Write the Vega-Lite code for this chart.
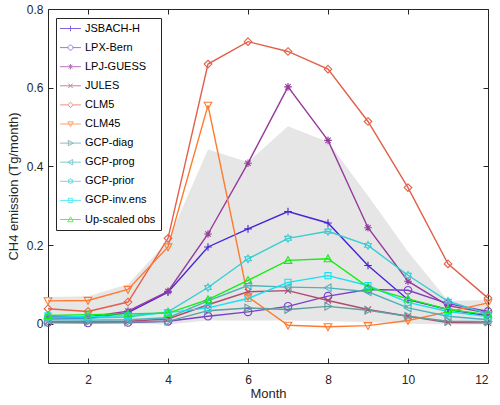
{
  "$schema": "https://vega.github.io/schema/vega-lite/v6.json",
  "width": 440,
  "height": 354,
  "autosize": "none",
  "padding": {"left": 48, "top": 9, "right": 12, "bottom": 42},
  "background": "white",
  "config": {
    "font": "Liberation Sans",
    "view": {"stroke": "#262626", "strokeWidth": 1},
    "axis": {"domain": false, "grid": false, "tickColor": "#262626", "tickSize": -5, "tickWidth": 1, "labelColor": "#262626", "labelFontSize": 12, "titleColor": "#262626", "titleFontSize": 13, "titleFontWeight": "normal", "labelFont": "Liberation Sans", "titleFont": "Liberation Sans"}
  },
  "datasets": {
    "band": [
      {"month": 1, "lo": 0.0, "hi": 0.068},
      {"month": 2, "lo": 0.0, "hi": 0.07},
      {"month": 3, "lo": 0.0, "hi": 0.1},
      {"month": 4, "lo": -0.002, "hi": 0.21},
      {"month": 5, "lo": 0.008, "hi": 0.443},
      {"month": 6, "lo": 0.008, "hi": 0.411},
      {"month": 7, "lo": 0.008, "hi": 0.502},
      {"month": 8, "lo": 0.006, "hi": 0.462},
      {"month": 9, "lo": 0.004, "hi": 0.325},
      {"month": 10, "lo": 0.0, "hi": 0.183},
      {"month": 11, "lo": -0.002, "hi": 0.058},
      {"month": 12, "lo": -0.002, "hi": 0.06}
    ],
    "series": [
      {"series": "JSBACH-H", "month": 1, "value": 0.015},
      {"series": "JSBACH-H", "month": 2, "value": 0.013},
      {"series": "JSBACH-H", "month": 3, "value": 0.028},
      {"series": "JSBACH-H", "month": 4, "value": 0.08},
      {"series": "JSBACH-H", "month": 5, "value": 0.195},
      {"series": "JSBACH-H", "month": 6, "value": 0.241},
      {"series": "JSBACH-H", "month": 7, "value": 0.285},
      {"series": "JSBACH-H", "month": 8, "value": 0.256},
      {"series": "JSBACH-H", "month": 9, "value": 0.148},
      {"series": "JSBACH-H", "month": 10, "value": 0.061},
      {"series": "JSBACH-H", "month": 11, "value": 0.036},
      {"series": "JSBACH-H", "month": 12, "value": 0.02},
      {"series": "LPX-Bern", "month": 1, "value": 0.003},
      {"series": "LPX-Bern", "month": 2, "value": 0.002},
      {"series": "LPX-Bern", "month": 3, "value": 0.003},
      {"series": "LPX-Bern", "month": 4, "value": 0.006},
      {"series": "LPX-Bern", "month": 5, "value": 0.019},
      {"series": "LPX-Bern", "month": 6, "value": 0.03},
      {"series": "LPX-Bern", "month": 7, "value": 0.044},
      {"series": "LPX-Bern", "month": 8, "value": 0.07},
      {"series": "LPX-Bern", "month": 9, "value": 0.087},
      {"series": "LPX-Bern", "month": 10, "value": 0.085},
      {"series": "LPX-Bern", "month": 11, "value": 0.051},
      {"series": "LPX-Bern", "month": 12, "value": 0.031},
      {"series": "LPJ-GUESS", "month": 1, "value": 0.019},
      {"series": "LPJ-GUESS", "month": 2, "value": 0.017},
      {"series": "LPJ-GUESS", "month": 3, "value": 0.032},
      {"series": "LPJ-GUESS", "month": 4, "value": 0.082},
      {"series": "LPJ-GUESS", "month": 5, "value": 0.228},
      {"series": "LPJ-GUESS", "month": 6, "value": 0.408},
      {"series": "LPJ-GUESS", "month": 7, "value": 0.602},
      {"series": "LPJ-GUESS", "month": 8, "value": 0.466},
      {"series": "LPJ-GUESS", "month": 9, "value": 0.244},
      {"series": "LPJ-GUESS", "month": 10, "value": 0.108},
      {"series": "LPJ-GUESS", "month": 11, "value": 0.046},
      {"series": "LPJ-GUESS", "month": 12, "value": 0.027},
      {"series": "JULES", "month": 1, "value": 0.005},
      {"series": "JULES", "month": 2, "value": 0.005},
      {"series": "JULES", "month": 3, "value": 0.006},
      {"series": "JULES", "month": 4, "value": 0.012},
      {"series": "JULES", "month": 5, "value": 0.048},
      {"series": "JULES", "month": 6, "value": 0.081},
      {"series": "JULES", "month": 7, "value": 0.084},
      {"series": "JULES", "month": 8, "value": 0.059},
      {"series": "JULES", "month": 9, "value": 0.036},
      {"series": "JULES", "month": 10, "value": 0.019},
      {"series": "JULES", "month": 11, "value": 0.003},
      {"series": "JULES", "month": 12, "value": 0.002},
      {"series": "CLM5", "month": 1, "value": 0.038},
      {"series": "CLM5", "month": 2, "value": 0.031},
      {"series": "CLM5", "month": 3, "value": 0.055},
      {"series": "CLM5", "month": 4, "value": 0.217},
      {"series": "CLM5", "month": 5, "value": 0.66},
      {"series": "CLM5", "month": 6, "value": 0.717},
      {"series": "CLM5", "month": 7, "value": 0.692},
      {"series": "CLM5", "month": 8, "value": 0.647},
      {"series": "CLM5", "month": 9, "value": 0.514},
      {"series": "CLM5", "month": 10, "value": 0.346},
      {"series": "CLM5", "month": 11, "value": 0.152},
      {"series": "CLM5", "month": 12, "value": 0.065},
      {"series": "CLM45", "month": 1, "value": 0.058},
      {"series": "CLM45", "month": 2, "value": 0.059},
      {"series": "CLM45", "month": 3, "value": 0.087},
      {"series": "CLM45", "month": 4, "value": 0.195},
      {"series": "CLM45", "month": 5, "value": 0.555},
      {"series": "CLM45", "month": 6, "value": 0.068},
      {"series": "CLM45", "month": 7, "value": -0.004},
      {"series": "CLM45", "month": 8, "value": -0.008},
      {"series": "CLM45", "month": 9, "value": -0.005},
      {"series": "CLM45", "month": 10, "value": 0.008},
      {"series": "CLM45", "month": 11, "value": 0.03},
      {"series": "CLM45", "month": 12, "value": 0.053},
      {"series": "GCP-diag", "month": 1, "value": 0.004},
      {"series": "GCP-diag", "month": 2, "value": 0.004},
      {"series": "GCP-diag", "month": 3, "value": 0.004},
      {"series": "GCP-diag", "month": 4, "value": 0.006},
      {"series": "GCP-diag", "month": 5, "value": 0.033},
      {"series": "GCP-diag", "month": 6, "value": 0.04},
      {"series": "GCP-diag", "month": 7, "value": 0.036},
      {"series": "GCP-diag", "month": 8, "value": 0.044},
      {"series": "GCP-diag", "month": 9, "value": 0.034},
      {"series": "GCP-diag", "month": 10, "value": 0.019},
      {"series": "GCP-diag", "month": 11, "value": 0.006},
      {"series": "GCP-diag", "month": 12, "value": 0.005},
      {"series": "GCP-prog", "month": 1, "value": 0.01},
      {"series": "GCP-prog", "month": 2, "value": 0.009},
      {"series": "GCP-prog", "month": 3, "value": 0.01},
      {"series": "GCP-prog", "month": 4, "value": 0.015},
      {"series": "GCP-prog", "month": 5, "value": 0.058},
      {"series": "GCP-prog", "month": 6, "value": 0.097},
      {"series": "GCP-prog", "month": 7, "value": 0.093},
      {"series": "GCP-prog", "month": 8, "value": 0.091},
      {"series": "GCP-prog", "month": 9, "value": 0.081},
      {"series": "GCP-prog", "month": 10, "value": 0.04},
      {"series": "GCP-prog", "month": 11, "value": 0.019},
      {"series": "GCP-prog", "month": 12, "value": 0.01},
      {"series": "GCP-prior", "month": 1, "value": 0.015},
      {"series": "GCP-prior", "month": 2, "value": 0.014},
      {"series": "GCP-prior", "month": 3, "value": 0.017},
      {"series": "GCP-prior", "month": 4, "value": 0.03},
      {"series": "GCP-prior", "month": 5, "value": 0.092},
      {"series": "GCP-prior", "month": 6, "value": 0.165},
      {"series": "GCP-prior", "month": 7, "value": 0.217},
      {"series": "GCP-prior", "month": 8, "value": 0.235},
      {"series": "GCP-prior", "month": 9, "value": 0.199},
      {"series": "GCP-prior", "month": 10, "value": 0.123},
      {"series": "GCP-prior", "month": 11, "value": 0.057},
      {"series": "GCP-prior", "month": 12, "value": 0.025},
      {"series": "GCP-inv.ens", "month": 1, "value": 0.02},
      {"series": "GCP-inv.ens", "month": 2, "value": 0.018},
      {"series": "GCP-inv.ens", "month": 3, "value": 0.02},
      {"series": "GCP-inv.ens", "month": 4, "value": 0.028},
      {"series": "GCP-inv.ens", "month": 5, "value": 0.04},
      {"series": "GCP-inv.ens", "month": 6, "value": 0.064},
      {"series": "GCP-inv.ens", "month": 7, "value": 0.105},
      {"series": "GCP-inv.ens", "month": 8, "value": 0.122},
      {"series": "GCP-inv.ens", "month": 9, "value": 0.097},
      {"series": "GCP-inv.ens", "month": 10, "value": 0.054},
      {"series": "GCP-inv.ens", "month": 11, "value": 0.031},
      {"series": "GCP-inv.ens", "month": 12, "value": 0.018},
      {"series": "Up-scaled obs", "month": 1, "value": 0.021},
      {"series": "Up-scaled obs", "month": 2, "value": 0.023},
      {"series": "Up-scaled obs", "month": 3, "value": 0.025},
      {"series": "Up-scaled obs", "month": 4, "value": 0.027},
      {"series": "Up-scaled obs", "month": 5, "value": 0.061},
      {"series": "Up-scaled obs", "month": 6, "value": 0.11},
      {"series": "Up-scaled obs", "month": 7, "value": 0.161},
      {"series": "Up-scaled obs", "month": 8, "value": 0.165},
      {"series": "Up-scaled obs", "month": 9, "value": 0.093},
      {"series": "Up-scaled obs", "month": 10, "value": 0.063},
      {"series": "Up-scaled obs", "month": 11, "value": 0.036},
      {"series": "Up-scaled obs", "month": 12, "value": 0.023}
    ]
  },
  "layer": [
    {
      "data": {"name": "band"},
      "mark": {"type": "area", "color": "#e6e6e6"},
      "encoding": {
        "x": {"field": "month", "type": "quantitative", "scale": {"domain": [1, 12], "nice": false, "zero": false},
              "axis": {"orient": "bottom", "values": [2, 4, 6, 8, 10, 12], "title": "Month", "labelPadding": 16, "titlePadding": 2}},
        "y": {"field": "lo", "type": "quantitative", "scale": {"domain": [-0.1, 0.8], "nice": false, "zero": false},
              "axis": {"orient": "left", "values": [0, 0.2, 0.4, 0.6, 0.8], "format": ".1~f", "title": "CH4 emission (Tg/month)", "labelPadding": 10, "titlePadding": 6}},
        "y2": {"field": "hi"}
      }
    },
    {
      "data": {"name": "series"},
      "mark": {"type": "line", "strokeWidth": 1.4},
      "encoding": {
        "x": {"field": "month", "type": "quantitative", "scale": {"domain": [1, 12], "nice": false, "zero": false}, "axis": null},
        "y": {"field": "value", "type": "quantitative", "scale": {"domain": [-0.1, 0.8], "nice": false, "zero": false}, "axis": null},
        "color": {"field": "series", "type": "nominal",
          "scale": {"domain": ["JSBACH-H", "LPX-Bern", "LPJ-GUESS", "JULES", "CLM5", "CLM45", "GCP-diag", "GCP-prog", "GCP-prior", "GCP-inv.ens", "Up-scaled obs"],
                    "range": ["#4a22d8", "#7a40cc", "#963a9c", "#b04c72", "#e2604a", "#ff7a2e", "#5e9ea0", "#4cb4b8", "#36cdd4", "#16e0f0", "#14ee14"]},
          "legend": null
        }
      }
    },
    {
      "data": {"name": "series"},
      "mark": {"type": "point", "filled": false, "size": 58, "strokeWidth": 1.1, "opacity": 1},
      "encoding": {
        "x": {"field": "month", "type": "quantitative", "scale": {"domain": [1, 12], "nice": false, "zero": false}, "axis": null},
        "y": {"field": "value", "type": "quantitative", "scale": {"domain": [-0.1, 0.8], "nice": false, "zero": false}, "axis": null},
        "color": {"field": "series", "type": "nominal",
          "scale": {"domain": ["JSBACH-H", "LPX-Bern", "LPJ-GUESS", "JULES", "CLM5", "CLM45", "GCP-diag", "GCP-prog", "GCP-prior", "GCP-inv.ens", "Up-scaled obs"],
                    "range": ["#4a22d8", "#7a40cc", "#963a9c", "#b04c72", "#e2604a", "#ff7a2e", "#5e9ea0", "#4cb4b8", "#36cdd4", "#16e0f0", "#14ee14"]},
          "legend": null
        },
        "shape": {"field": "series", "type": "nominal",
          "scale": {"domain": ["JSBACH-H", "LPX-Bern", "LPJ-GUESS", "JULES", "CLM5", "CLM45", "GCP-diag", "GCP-prog", "GCP-prior", "GCP-inv.ens", "Up-scaled obs"],
                    "range": [
                      "M-1,0H1M0,-1V1",
                      "M1,0A1,1,0,1,1,-1,0A1,1,0,1,1,1,0Z",
                      "M-1,0H1M0,-1V1M-0.7,-0.7L0.7,0.7M-0.7,0.7L0.7,-0.7",
                      "M-0.8,-0.8L0.8,0.8M-0.8,0.8L0.8,-0.8",
                      "M0,-1L1,0L0,1L-1,0Z",
                      "M-1,-0.8L1,-0.8L0,1Z",
                      "M-0.8,-1L1,0L-0.8,1Z",
                      "M0.8,-1L-1,0L0.8,1Z",
                      "M0,-1L0.289,-0.5L0.866,-0.5L0.577,0L0.866,0.5L0.289,0.5L0,1L-0.289,0.5L-0.866,0.5L-0.577,0L-0.866,-0.5L-0.289,-0.5Z",
                      "M-0.8,-0.8H0.8V0.8H-0.8Z",
                      "M-1,0.8L1,0.8L0,-1Z"
                    ]},
          "legend": null
        }
      }
    },
    {
      "data": {"name": "series"},
      "transform": [{"filter": "datum.month > 100"}],
      "mark": {"type": "point", "filled": false},
      "encoding": {
        "x": {"field": "month", "type": "quantitative", "scale": {"domain": [1, 12], "nice": false, "zero": false}, "axis": null},
        "y": {"field": "value", "type": "quantitative", "scale": {"domain": [-0.1, 0.8], "nice": false, "zero": false}, "axis": null},
        "stroke": {"field": "series", "type": "nominal",
          "scale": {"domain": ["JSBACH-H", "LPX-Bern", "LPJ-GUESS", "JULES", "CLM5", "CLM45", "GCP-diag", "GCP-prog", "GCP-prior", "GCP-inv.ens", "Up-scaled obs"],
                    "range": ["#4a22d8", "#7a40cc", "#963a9c", "#b04c72", "#e2604a", "#ff7a2e", "#5e9ea0", "#4cb4b8", "#36cdd4", "#16e0f0", "#14ee14"]},
          "legend": {"orient": "none", "legendX": 8, "legendY": 9, "title": null, "symbolSize": 30, "symbolStrokeWidth": 1, "labelFontSize": 11, "labelFont": "Liberation Sans", "labelColor": "#000000", "padding": 5, "strokeColor": "#262626", "fillColor": "white", "rowPadding": 7.1, "symbolOffset": 4, "labelOffset": 9}
        },
        "shape": {"field": "series", "type": "nominal",
          "scale": {"domain": ["JSBACH-H", "LPX-Bern", "LPJ-GUESS", "JULES", "CLM5", "CLM45", "GCP-diag", "GCP-prog", "GCP-prior", "GCP-inv.ens", "Up-scaled obs"],
                    "range": [
                      "M-3.8,0H3.8M-1,0H1M0,-1V1",
                      "M-3.8,0H-0.9M0.9,0H3.8M0.9,0A0.9,0.9,0,1,1,-0.9,0A0.9,0.9,0,1,1,0.9,0Z",
                      "M-3.8,0H3.8M0,-1V1M-0.7,-0.7L0.7,0.7M-0.7,0.7L0.7,-0.7",
                      "M-3.8,0H3.8M-0.8,-0.8L0.8,0.8M-0.8,0.8L0.8,-0.8",
                      "M-3.8,0H-1M1,0H3.8M0,-1L1,0L0,1L-1,0Z",
                      "M-3.8,0H3.8M-1,-0.8L1,-0.8L0,1Z",
                      "M-3.8,0H3.8M-0.8,-1L1,0L-0.8,1Z",
                      "M-3.8,0H3.8M0.8,-1L-1,0L0.8,1Z",
                      "M-3.8,0H3.8M0,-1L0.289,-0.5L0.866,-0.5L0.577,0L0.866,0.5L0.289,0.5L0,1L-0.289,0.5L-0.866,0.5L-0.577,0L-0.866,-0.5L-0.289,-0.5Z",
                      "M-3.8,0H3.8M-0.8,-0.8H0.8V0.8H-0.8Z",
                      "M-3.8,0H3.8M-1,0.8L1,0.8L0,-1Z"
                    ]},
          "legend": {"orient": "none", "legendX": 8, "legendY": 9, "title": null, "symbolSize": 30, "symbolStrokeWidth": 1, "labelFontSize": 11, "labelFont": "Liberation Sans", "labelColor": "#000000", "padding": 5, "strokeColor": "#262626", "fillColor": "white", "rowPadding": 7.1, "symbolOffset": 4, "labelOffset": 9}
        }
      }
    },
    {
      "data": {"name": "band"},
      "mark": {"type": "point", "opacity": 0},
      "encoding": {
        "x": {"field": "month", "type": "quantitative", "scale": {"domain": [1, 12], "nice": false, "zero": false},
              "axis": {"orient": "top", "values": [2, 4, 6, 8, 10, 12], "labels": false, "title": null}},
        "y": {"field": "hi", "type": "quantitative", "scale": {"domain": [-0.1, 0.8], "nice": false, "zero": false},
              "axis": {"orient": "right", "values": [0, 0.2, 0.4, 0.6, 0.8], "labels": false, "title": null}}
      }
    }
  ],
  "resolve": {"axis": {"x": "independent", "y": "independent"}, "scale": {"shape": "independent", "stroke": "independent"}}
}
